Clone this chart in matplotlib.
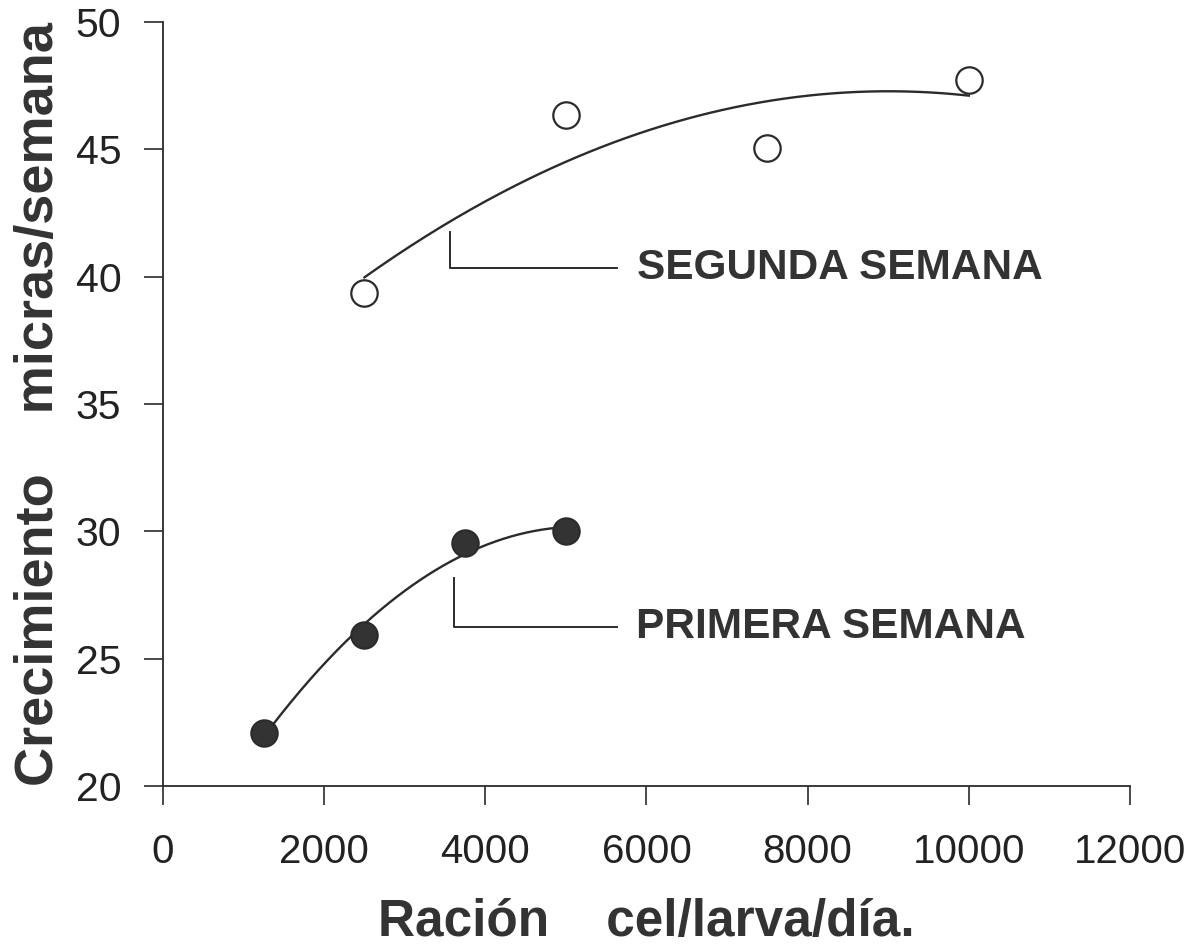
import numpy as np
import matplotlib
matplotlib.use("Agg")
import matplotlib.pyplot as plt

plt.rcParams['font.family'] = ['Liberation Sans', 'DejaVu Sans']

# Ración (cel/larva/día) vs crecimiento (micras/semana)
racion_primera = [1250, 2500, 3750, 5000]
crec_primera = [22.08, 25.93, 29.54, 30.02]

racion_segunda = [2500, 5000, 7500, 10000]
crec_segunda = [39.36, 46.35, 45.05, 47.72]

xticks = [0, 2000, 4000, 6000, 8000, 10000, 12000]
yticks = [20, 25, 30, 35, 40, 45, 50]

ink = "#2b2b2b"

fig = plt.figure(figsize=(12.02, 9.51), dpi=100)
ax = fig.add_axes([0.1356, 0.1735, 0.8045, 0.8034])

# quadratic trend for each week
for xs, ys in [(racion_primera, crec_primera), (racion_segunda, crec_segunda)]:
    coef = np.polyfit(xs, ys, 2)
    xx = np.linspace(min(xs), max(xs), 200)
    ax.plot(xx, np.polyval(coef, xx), color=ink, lw=1.7, zorder=2)

ax.plot(racion_primera, crec_primera, 'o', ms=19, mfc="#333333", mec=ink,
        mew=1.5, zorder=3, clip_on=False)
ax.plot(racion_segunda, crec_segunda, 'o', ms=19, mfc="white", mec=ink,
        mew=1.6, zorder=3, clip_on=False)

# label leaders
ax.plot([3560, 3560, 5640], [41.75, 40.34, 40.34], color=ink, lw=1.4)
ax.text(5880, 40.34, "SEGUNDA SEMANA", fontsize=30.5, fontweight='bold',
        color="#333333", va='center', ha='left')
ax.plot([3610, 3610, 5640], [28.17, 26.25, 26.25], color=ink, lw=1.4)
ax.text(5870, 26.25, "PRIMERA SEMANA", fontsize=30.5, fontweight='bold',
        color="#333333", va='center', ha='left')

ax.set_xlim(0, 12000)
ax.set_ylim(20, 50)
ax.set_xticks(xticks)
ax.set_yticks(yticks)
ax.set_xticklabels([str(v) for v in xticks])
ax.set_yticklabels([str(v) for v in yticks])

for s in ['top', 'right']:
    ax.spines[s].set_visible(False)
for s in ['left', 'bottom']:
    ax.spines[s].set_linewidth(1.3)
    ax.spines[s].set_color(ink)

ax.tick_params(axis='x', direction='out', length=14, width=1.2, color=ink,
               labelsize=29, pad=20, labelcolor="#222222")
ax.tick_params(axis='y', direction='out', length=14, width=1.2, color=ink,
               labelsize=29.5, pad=16, labelcolor="#222222")

ax.set_xlabel("Ración    cel/larva/día.", fontsize=37, fontweight='bold',
              color="#333333", labelpad=19)
ax.set_ylabel("Crecimiento    micras/semana", fontsize=39, fontweight='bold',
              color="#333333", labelpad=8)

fig.savefig("out.png", dpi=100)
